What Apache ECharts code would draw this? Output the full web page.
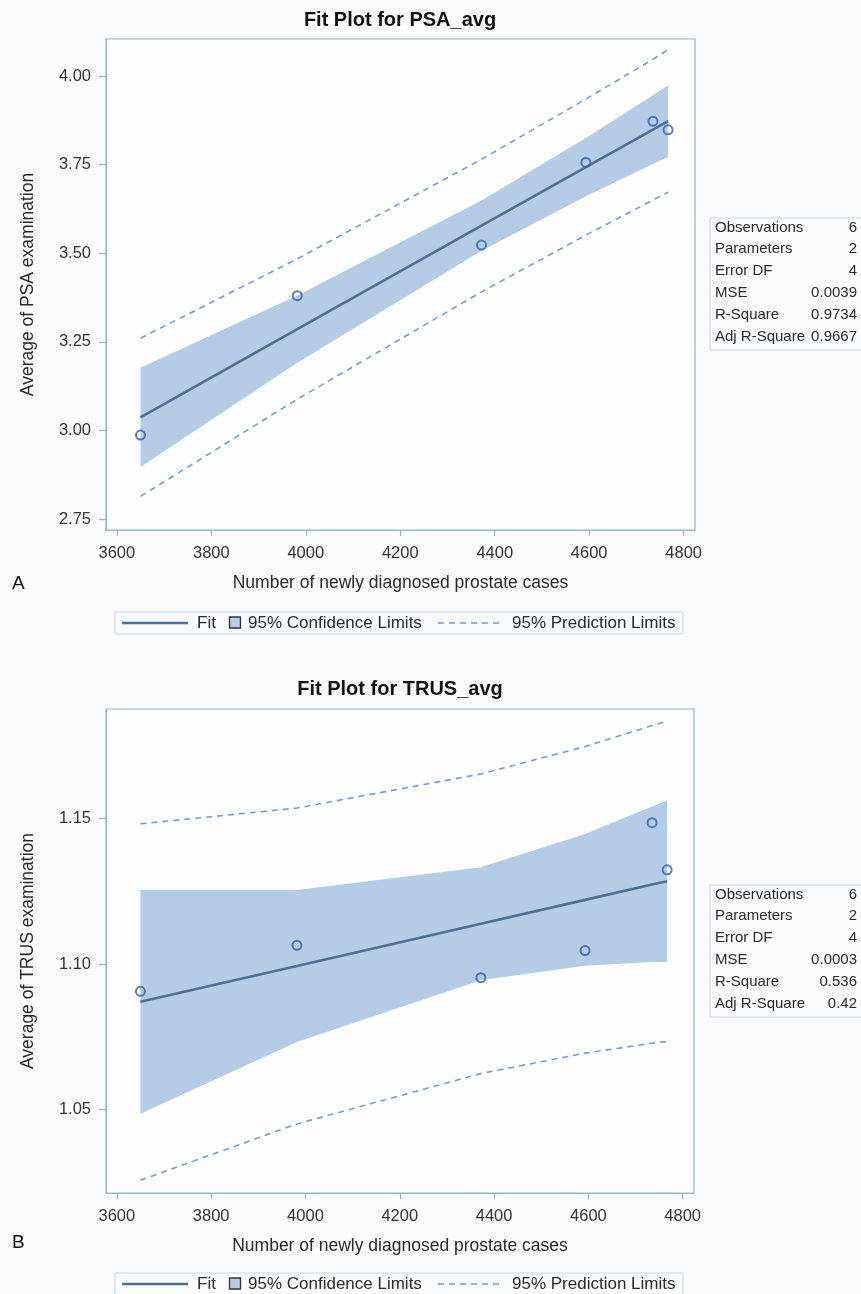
<!DOCTYPE html>
<html>
<head>
<meta charset="utf-8">
<script src="https://cdn.jsdelivr.net/npm/echarts@6/dist/echarts.min.js"></script>
<style>
html,body{margin:0;padding:0;background:#fafbfd;}
#c{width:861px;height:1294px;}
</style>
</head>
<body>
<div id="c"></div>
<script>
// ---- data ----
const xCases = [3650, 3982, 4372, 4593, 4735, 4767];

const psaAvg      = [2.987, 3.380, 3.523, 3.756, 3.872, 3.848];
const psaFit      = [3.037, 3.286, 3.578, 3.743, 3.849, 3.873];
const psaClmLower = [2.897, 3.191, 3.507, 3.661, 3.752, 3.772];
const psaClmUpper = [3.177, 3.381, 3.649, 3.825, 3.946, 3.974];
const psaPiLower  = [2.814, 3.088, 3.391, 3.551, 3.650, 3.672];
const psaPiUpper  = [3.260, 3.484, 3.765, 3.935, 4.047, 4.074];

const trusAvg      = [1.0906, 1.1064, 1.0953, 1.1046, 1.1485, 1.1323];
const trusFit      = [1.0870, 1.0993, 1.1138, 1.1220, 1.1273, 1.1284];
const trusClmLower = [1.0486, 1.0732, 1.0944, 1.0994, 1.1007, 1.1007];
const trusClmUpper = [1.1254, 1.1254, 1.1332, 1.1446, 1.1540, 1.1561];
const trusPiLower  = [1.0258, 1.0451, 1.0624, 1.0694, 1.0728, 1.0734];
const trusPiUpper  = [1.1481, 1.1535, 1.1652, 1.1746, 1.1818, 1.1834];

const xTicks    = [3600, 3800, 4000, 4200, 4400, 4600, 4800];
const psaTicks  = [2.75, 3.00, 3.25, 3.50, 3.75, 4.00];
const trusTicks = [1.05, 1.10, 1.15];

const statLabels = ['Observations', 'Parameters', 'Error DF', 'MSE', 'R-Square', 'Adj R-Square'];
const psaStats   = ['6', '2', '4', '0.0039', '0.9734', '0.9667'];
const trusStats  = ['6', '2', '4', '0.0003', '0.536', '0.42'];

const titles = ['Fit Plot for PSA_avg', 'Fit Plot for TRUS_avg'];
const yTitles = ['Average of PSA examination', 'Average of TRUS examination'];
const xTitle = 'Number of newly diagnosed prostate cases';
const panelLetters = ['A', 'B'];
const legendNames = ['Fit', '95% Confidence Limits', '95% Prediction Limits'];

// ---- styles ----
const FONT = '"Liberation Sans", Arial, sans-serif';
const FRAME = '#94b8cb';
const BAND = '#b5cce6';
const FITC = '#4c7096';
const PIC = '#6f9fe2';
const MARK = '#2d5fb8';
const TXT = '#2a2a2a';

const pairs = (xs, ys) => xs.map((x, i) => [x, ys[i]]);

function bandSeries(gi, lower, upper) {
  return {
    type: 'custom', xAxisIndex: gi, yAxisIndex: gi, z: 1, clip: true,
    data: [0], silent: true,
    renderItem: function (params, api) {
      const pts = [];
      for (let i = 0; i < xCases.length; i++) pts.push(api.coord([xCases[i], upper[i]]));
      for (let i = xCases.length - 1; i >= 0; i--) pts.push(api.coord([xCases[i], lower[i]]));
      return { type: 'polygon', shape: { points: pts }, style: { fill: BAND } };
    }
  };
}
function lineSeries(gi, ys, dashed) {
  return {
    type: 'line', xAxisIndex: gi, yAxisIndex: gi, data: pairs(xCases, ys),
    showSymbol: false, symbol: 'none', silent: true, z: dashed ? 2 : 3,
    lineStyle: dashed ? { color: PIC, width: 1.6, type: [6, 5] } : { color: FITC, width: 2.6 }
  };
}
function scatterSeries(gi, ys) {
  return {
    type: 'scatter', xAxisIndex: gi, yAxisIndex: gi, data: pairs(xCases, ys), z: 5,
    symbol: 'circle', symbolSize: 9,
    itemStyle: { color: 'rgba(255,255,255,0)', borderColor: MARK, borderWidth: 2 }
  };
}
function xAxisDef(gi) {
  return {
    type: 'value', gridIndex: gi, min: 3577, max: 4824,
    name: xTitle, nameLocation: 'middle', nameGap: 44,
    nameTextStyle: { fontFamily: FONT, fontSize: 17.5, color: TXT },
    axisLine: { show: true, lineStyle: { color: FRAME, width: 1.2 } },
    axisTick: { show: true, length: 6, customValues: xTicks, lineStyle: { color: FRAME, width: 1.2 } },
    axisLabel: { customValues: xTicks, margin: 15, fontFamily: FONT, fontSize: 16.5, color: '#333',
      formatter: v => String(Math.round(v)) },
    splitLine: { show: false }
  };
}
function yAxisDef(gi, min, max, ticks, name) {
  return {
    type: 'value', gridIndex: gi, min: min, max: max,
    name: name, nameLocation: 'middle', nameGap: 69,
    nameTextStyle: { fontFamily: FONT, fontSize: 17.5, color: TXT },
    axisLine: { show: true, lineStyle: { color: FRAME, width: 1.2 } },
    axisTick: { show: true, length: 7, customValues: ticks, lineStyle: { color: FRAME, width: 1.2 } },
    axisLabel: { customValues: ticks, margin: 15, fontFamily: FONT, fontSize: 16.5, color: '#333',
      formatter: v => v.toFixed(2) },
    splitLine: { show: false }
  };
}

// ---- graphic (titles, stats tables, legends, panel letters) ----
const graphics = [];
function txt(x, y, s, opt) {
  graphics.push({ type: 'text', x: x, y: y, silent: true,
    style: Object.assign({ text: s, fontFamily: FONT, fontSize: 15, fill: TXT,
      textAlign: 'left', textVerticalAlign: 'middle' }, opt || {}) });
}
function statsTable(top, vals) {
  graphics.push({ type: 'rect', silent: true, shape: { x: 710, y: top, width: 153, height: 132 },
    style: { fill: 'rgba(0,0,0,0)', stroke: '#cbd7e3', lineWidth: 1 } });
  for (let i = 0; i < statLabels.length; i++) {
    const cy = top + 9.5 + i * 21.8;
    txt(715, cy, statLabels[i]);
    txt(857, cy, vals[i], { textAlign: 'right' });
  }
}
function legendBox(top, h) {
  const cy = top + 11;
  graphics.push({ type: 'rect', silent: true, shape: { x: 115, y: top, width: 568, height: h },
    style: { fill: 'rgba(0,0,0,0)', stroke: '#cbd7e3', lineWidth: 1 } });
  graphics.push({ type: 'line', silent: true, shape: { x1: 122, y1: cy, x2: 188, y2: cy },
    style: { stroke: FITC, lineWidth: 2.6 } });
  txt(197, cy, legendNames[0], { fontSize: 17 });
  graphics.push({ type: 'rect', silent: true, shape: { x: 229.5, y: cy - 6, width: 11, height: 11 },
    style: { fill: BAND, stroke: '#333', lineWidth: 1.3 } });
  txt(248, cy, legendNames[1], { fontSize: 17 });
  graphics.push({ type: 'line', silent: true, shape: { x1: 438, y1: cy, x2: 500, y2: cy },
    style: { stroke: PIC, lineWidth: 1.6, lineDash: [6, 5] } });
  txt(512, cy, legendNames[2], { fontSize: 17 });
}
txt(400, 20, titles[0], { fontSize: 20, fontWeight: 'bold', textAlign: 'center', fill: '#111' });
txt(400, 689, titles[1], { fontSize: 20, fontWeight: 'bold', textAlign: 'center', fill: '#111' });
txt(12, 584, panelLetters[0], { fontSize: 19, fill: '#111' });
txt(12, 1243, panelLetters[1], { fontSize: 19, fill: '#111' });
statsTable(218, psaStats);
statsTable(885, trusStats);
legendBox(612, 22);
legendBox(1273, 24);

const chart = echarts.init(document.getElementById('c'), null, { renderer: 'canvas' });
chart.setOption({
  backgroundColor: '#fafbfd',
  animation: false,
  grid: [
    { left: 106, top: 39, width: 589, height: 491, show: true, backgroundColor: '#fefeff',
      borderColor: FRAME, borderWidth: 1.2 },
    { left: 106, top: 709, width: 588, height: 484, show: true, backgroundColor: '#fefeff',
      borderColor: FRAME, borderWidth: 1.2 }
  ],
  xAxis: [xAxisDef(0), xAxisDef(1)],
  yAxis: [
    yAxisDef(0, 2.719, 4.1044, psaTicks, yTitles[0]),
    yAxisDef(1, 1.0214, 1.1875, trusTicks, yTitles[1])
  ],
  series: [
    bandSeries(0, psaClmLower, psaClmUpper),
    lineSeries(0, psaPiLower, true),
    lineSeries(0, psaPiUpper, true),
    lineSeries(0, psaFit, false),
    scatterSeries(0, psaAvg),
    bandSeries(1, trusClmLower, trusClmUpper),
    lineSeries(1, trusPiLower, true),
    lineSeries(1, trusPiUpper, true),
    lineSeries(1, trusFit, false),
    scatterSeries(1, trusAvg)
  ],
  graphic: graphics
});
</script>
</body>
</html>
